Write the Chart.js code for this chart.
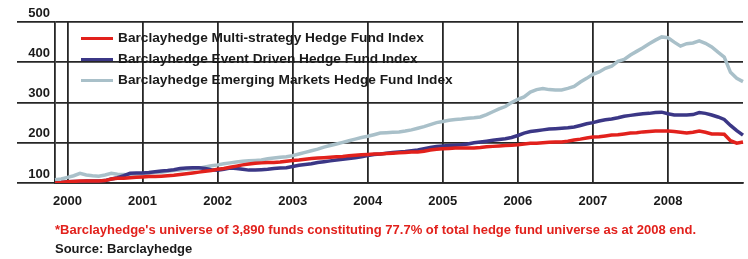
<!DOCTYPE html>
<html>
<head>
<meta charset="utf-8">
<script src="https://cdn.jsdelivr.net/npm/chart.js@4.4.1/dist/chart.umd.min.js"></script>
<style>
  body { margin: 0; background: #fff; }
  #wrap { position: relative; width: 748px; height: 259px; font-family: "Liberation Sans", Arial, sans-serif; font-weight: bold; }
  #myChart { position: absolute; left: 0; top: 0; }
  .legend { position: absolute; left: 81px; font-size: 13.7px; color: #1a1a1a; }
  .legend div { height: 21px; line-height: 21px; white-space: nowrap; }
  .legend span { display: inline-block; width: 32px; height: 3px; vertical-align: middle; margin-right: 5px; }
  .note { position: absolute; left: 55px; font-size: 13px; white-space: nowrap; }
</style>
</head>
<body>
<div id="wrap">
  <canvas id="myChart" width="748" height="259"></canvas>
  <div class="legend" id="legend" style="top:27px"></div>
  <div class="note" style="top:222px;color:#e2211c">*Barclayhedge's universe of 3,890 funds constituting 77.7% of total hedge fund universe as at 2008 end.</div>
  <div class="note" style="top:241px;color:#1a1a1a">Source: Barclayhedge</div>
</div>
<script>
// monthly, Nov 1999 .. Jan 2009
const yearTicks = ['2000', '2001', '2002', '2003', '2004', '2005', '2006', '2007', '2008'];
const seriesNames = [
    'Barclayhedge Multi-strategy Hedge Fund Index',
    'Barclayhedge Event Driven Hedge Fund Index',
    'Barclayhedge Emerging Markets Hedge Fund Index'
];
const seriesColors = ['#e2211c', '#3b3786', '#a9c0c9'];

const multiStrategy = [
    100, 101, 103, 104, 105, 105, 105, 105, 106, 110, 112, 112,
    113, 114, 115, 116, 116, 117, 118, 119, 121, 123, 125, 127,
    129, 131, 134, 136, 139, 142, 145, 147, 149, 150, 151, 151,
    152, 154, 156, 157, 159, 161, 162, 163, 164, 165, 166, 168,
    169, 170, 171, 172, 172, 173, 174, 175, 176, 177, 177, 179,
    182, 184, 185, 186, 187, 187, 187, 187, 188, 190, 191, 192,
    193, 194, 195, 197, 199, 199, 200, 201, 202, 202, 204, 207,
    209, 212, 214, 215, 217, 219, 220, 222, 224, 225, 227, 228,
    229, 229, 229, 228, 226, 224, 226, 229, 226, 222, 222, 221,
    205, 199, 202
];
const eventDriven = [
    100, 101, 103, 104, 104, 105, 105, 105, 106, 110, 113, 118,
    124, 125, 125, 126, 128, 130, 131, 133, 136, 137, 138, 138,
    136, 133, 132, 134, 137, 136, 134, 132, 132, 133, 134, 136,
    137, 138, 141, 144, 146, 148, 151, 153, 155, 157, 159, 161,
    163, 165, 168, 171, 172, 174, 176, 177, 178, 180, 182, 185,
    188, 191, 192, 193, 194, 195, 197, 200, 202, 204, 206, 208,
    210, 213, 218, 224, 228, 230, 232, 234, 235, 236, 237, 239,
    243, 247, 250, 254, 257, 259, 262, 266, 268, 270, 272, 273,
    275, 276, 272, 269, 269, 269, 270, 275, 273, 269, 264, 258,
    243, 230, 219
];
const emergingMarkets = [
    108, 110, 114, 118, 124, 120, 118, 117, 120, 124, 122, 121,
    120, 120, 121, 124, 126, 127, 129, 131, 132, 134, 135, 137,
    140, 143, 145, 148, 150, 152, 154, 155, 156, 157, 160, 162,
    164, 165, 168, 172, 176, 180, 184, 189, 193, 197, 201, 205,
    209, 213, 216, 220, 224, 225, 226, 227, 229, 232, 236, 240,
    245, 250, 253, 256, 258, 259, 261, 262, 264, 270, 277, 284,
    290, 300, 308, 314, 326, 332, 335, 332, 331, 331, 335, 340,
    351, 360, 370, 376, 385, 390, 402, 407, 418, 427, 436, 446,
    455, 463, 461, 450, 440, 446, 448, 453, 447, 438, 425, 413,
    375, 360, 352
];

let months = [];
for (let i = 0; i < multiStrategy.length; i++) {
    let m = 10 + i;
    let year = 1999 + Math.floor(m / 12);
    let month = (m % 12) + 1;
    months.push(year + '-' + (month < 10 ? '0' + month : month));
}

function isYearTick(index) {
    let parts = months[index].split('-');
    return parts[1] === '01' && yearTicks.indexOf(parts[0]) !== -1;
}

const gridColor = '#262626';
const allSeries = [multiStrategy, eventDriven, emergingMarkets];

let legendBox = document.getElementById('legend');
for (let i = 0; i < seriesNames.length; i++) {
    let row = document.createElement('div');
    row.innerHTML = '<span style="background:' + seriesColors[i] + '"></span>' + seriesNames[i];
    legendBox.appendChild(row);
}

new Chart(document.getElementById('myChart'), {
    type: 'line',
    data: {
        labels: months,
        datasets: allSeries.map(function (values, i) {
            return {
                label: seriesNames[i],
                data: values,
                borderColor: seriesColors[i],
                borderWidth: 3.5,
                pointRadius: 0,
                fill: false,
                tension: 0
            };
        })
    },
    options: {
        responsive: false,
        animation: false,
        layout: { padding: { top: 22, right: 5, left: 0, bottom: 0 } },
        plugins: {
            legend: { display: false },
            tooltip: { enabled: false }
        },
        scales: {
            x: {
                afterFit: function (scale) {
                    scale.height = 76;
                    scale.paddingLeft = 0;
                    scale.paddingRight = 0;
                },
                grid: {
                    drawTicks: false,
                    lineWidth: 1.8,
                    color: function (ctx) {
                        return isYearTick(ctx.index) ? gridColor : 'rgba(0,0,0,0)';
                    }
                },
                border: { color: gridColor, width: 1.8 },
                ticks: {
                    autoSkip: false,
                    maxRotation: 0,
                    padding: 11,
                    color: '#1a1a1a',
                    font: { family: 'Liberation Sans', size: 13, weight: 'bold' },
                    callback: function (value, index) {
                        return isYearTick(index) ? months[index].slice(0, 4) : '';
                    }
                }
            },
            y: {
                min: 100,
                max: 500,
                afterFit: function (scale) { scale.width = 55; },
                grid: { color: gridColor, lineWidth: 1.8, tickLength: 38 },
                border: { color: gridColor, width: 1.8 },
                ticks: {
                    stepSize: 100,
                    padding: -33,
                    labelOffset: -9,
                    color: '#1a1a1a',
                    font: { family: 'Liberation Sans', size: 13, weight: 'bold' }
                }
            }
        }
    }
});
</script>
</body>
</html>
